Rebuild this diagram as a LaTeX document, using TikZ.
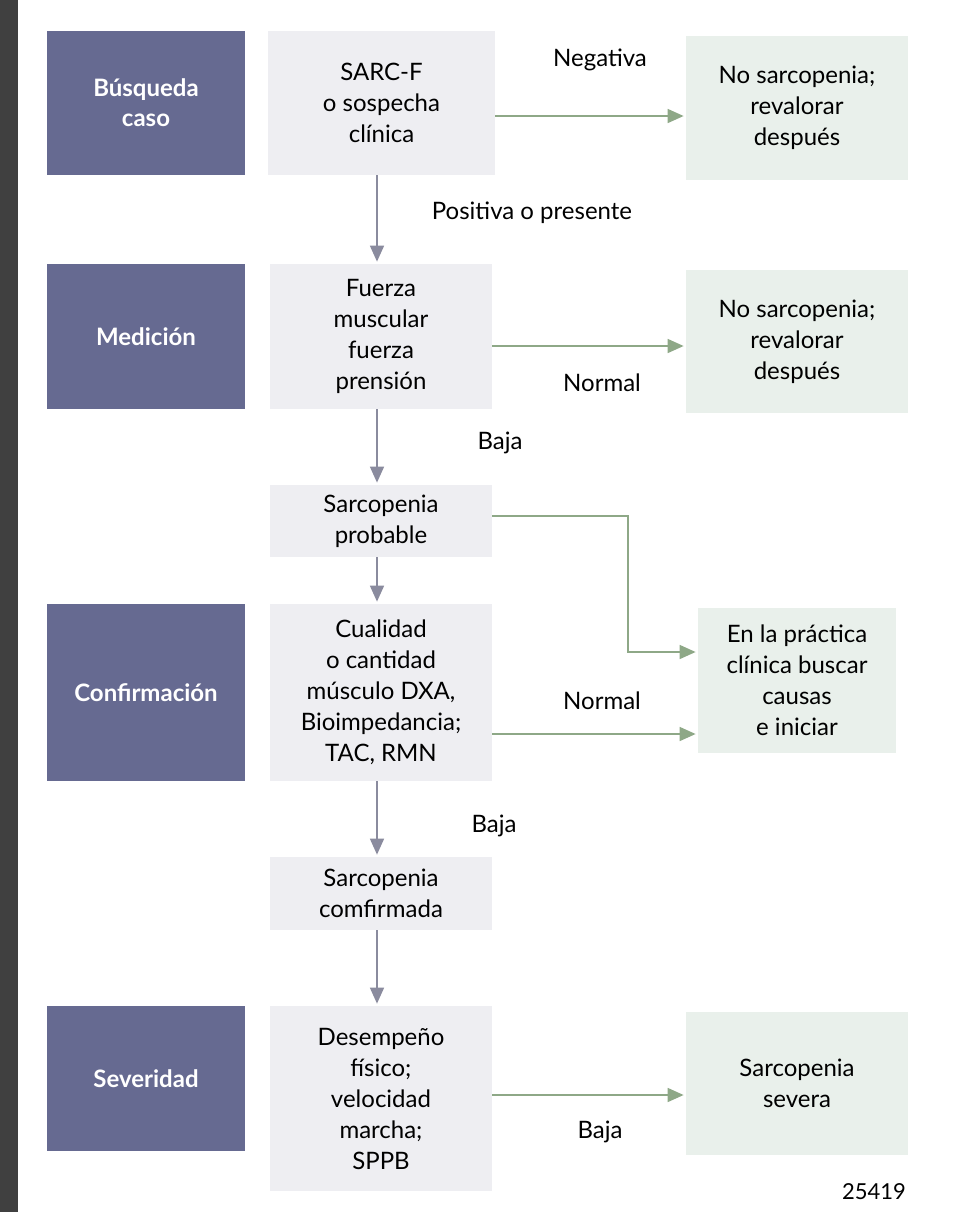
\documentclass[tikz,border=0pt]{standalone}
\usepackage{fontspec}
\setmainfont{Lato}
\usetikzlibrary{positioning,arrows.meta}
\definecolor{stage}{HTML}{666A91}
\definecolor{stepfill}{HTML}{EEEEF2}
\definecolor{result}{HTML}{E9F0EB}
\definecolor{downln}{HTML}{8A8B9E}
\definecolor{sideln}{HTML}{8EA887}
\begin{document}
\begin{tikzpicture}[x=0.5pt,y=-0.5pt,>={Triangle[length=8pt,width=7pt]},
  stagebox/.style={fill=stage,text=white,font=\fontsize{12}{15}\selectfont\bfseries,align=center,inner sep=0},
  stepbox/.style={fill=stepfill,font=\fontsize{12}{15.5}\selectfont,align=center,inner sep=0},
  resultbox/.style={fill=result,font=\fontsize{12}{15.5}\selectfont,align=center,inner sep=0},
  down/.style={draw=downln,thick,->,shorten >=1pt},
  side/.style={draw=sideln,thick,->,shorten >=1pt},
  lbl/.style={font=\fontsize{12}{15}\selectfont}]
  \useasboundingbox (0,0) rectangle (956,1212);
  \fill[white] (0,0) rectangle (956,1212);
  \fill[black!75] (0,0) rectangle (18,1212);
  % stages
  \node[stagebox,minimum width=99pt,minimum height=72pt] (busq) at (146,103) {Búsqueda\\caso};
  \node[stagebox,minimum width=99pt,minimum height=72.5pt] (medi) at (146,336.5) {Medición};
  \node[stagebox,minimum width=99pt,minimum height=88.5pt] (conf) at (146,692.5) {Confirmación};
  \node[stagebox,minimum width=99pt,minimum height=72.5pt] (seve) at (146,1078.5) {Severidad};
  % steps
  \node[stepbox,minimum width=113.5pt,minimum height=72pt] (sarcf) at (381.5,103) {SARC-F\\o sospecha\\clínica};
  \node[stepbox,minimum width=111pt,minimum height=72.5pt] (fuerza) at (381,336.5) {Fuerza\\muscular\\fuerza\\prensión};
  \node[stepbox,minimum width=111pt,minimum height=36pt] (prob) at (381,521) {Sarcopenia\\probable};
  \node[stepbox,minimum width=111pt,minimum height=88.5pt] (cual) at (381,692.5) {Cualidad\\o cantidad\\músculo DXA,\\Bioimpedancia;\\TAC, RMN};
  \node[stepbox,minimum width=111pt,minimum height=36.5pt] (confi) at (381,893.5) {Sarcopenia\\comfirmada};
  \node[stepbox,minimum width=111pt,minimum height=92.5pt] (desem) at (381,1098.5) {Desempeño\\físico;\\velocidad\\marcha;\\SPPB};
  % results
  \node[resultbox,minimum width=111pt,minimum height=72pt] (nosa) at (797,108) {No sarcopenia;\\revalorar\\después};
  \node[resultbox,minimum width=111pt,minimum height=71.5pt] (nosb) at (797,341.5) {No sarcopenia;\\revalorar\\después};
  \node[resultbox,minimum width=99pt,minimum height=72.5pt] (pract) at (797,680.5) {En la práctica\\clínica buscar\\causas\\e iniciar};
  \node[resultbox,minimum width=111pt,minimum height=71.5pt] (sever) at (797,1083.5) {Sarcopenia\\severa};
  % connectors
  \draw[down] (sarcf.south -| 377,0) -- (fuerza.north -| 377,0);
  \draw[down] (fuerza.south -| 377,0) -- (prob.north -| 377,0);
  \draw[down] (prob.south -| 377,0) -- (cual.north -| 377,0);
  \draw[down] (cual.south -| 377,0) -- (confi.north -| 377,0);
  \draw[down] (confi.south -| 377,0) -- (desem.north -| 377,0);
  \draw[side] (sarcf.east |- 0,116) -- (nosa.west |- 0,116);
  \draw[side] (fuerza.east |- 0,346) -- (nosb.west |- 0,346);
  \draw[side] (cual.east |- 0,734) -- (pract.west |- 0,734);
  \draw[side] (prob.east |- 0,516) -- (628,516) -- (628,652) -- (pract.west |- 0,652);
  \draw[side] (desem.east |- 0,1095) -- (sever.west |- 0,1095);
  % labels
  \node[lbl] (negl) at (600,60) {Negativa};
  \node[lbl] (posl) at (532,213) {Positiva o presente};
  \node[lbl] (norla) at (602,383) {Normal};
  \node[lbl] (bajla) at (500,443) {Baja};
  \node[lbl] (norlb) at (602,701) {Normal};
  \node[lbl] (bajlb) at (494,826) {Baja};
  \node[lbl] (bajlc) at (600,1132) {Baja};
  \node[lbl,font=\fontsize{11}{13}\selectfont] (code) at (874,1192) {25419};
\end{tikzpicture}
\end{document}
